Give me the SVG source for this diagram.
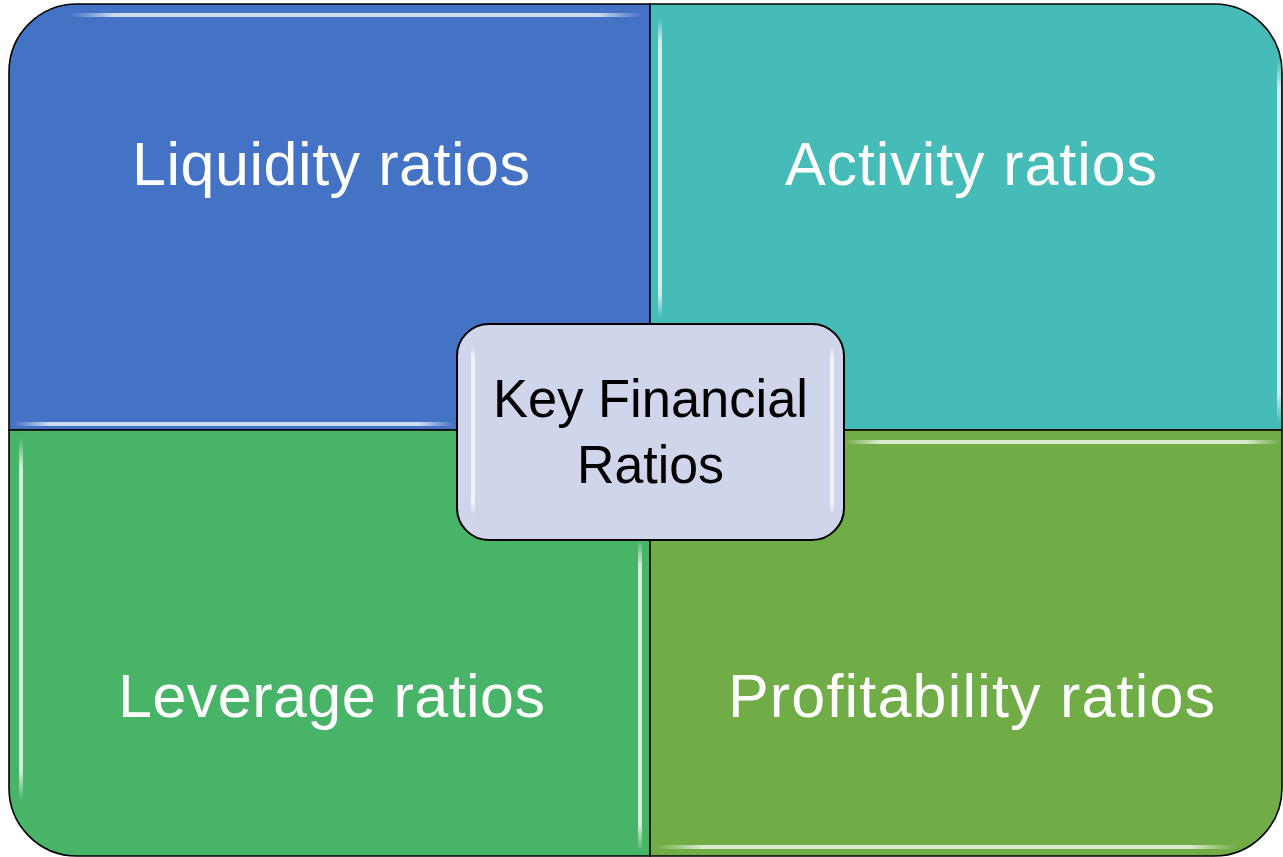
<svg xmlns="http://www.w3.org/2000/svg" width="1283" height="857" viewBox="0 0 1283 857">
<style>
.quad{stroke:#000;stroke-width:1.6;stroke-linejoin:round}
.qt{font-family:"Liberation Sans",Arial,sans-serif;font-size:61px;fill:#fff;text-anchor:middle;lengthAdjust:spacing}
.ct{font-family:"Liberation Sans",Arial,sans-serif;font-size:53px;fill:#000;text-anchor:middle}
.hl{stroke-width:3.5;fill:none;stroke-linecap:butt}
</style>
<defs>
<linearGradient id="gh" x1="0" y1="0" x2="1" y2="0">
<stop offset="0" stop-color="#fff" stop-opacity="0"/>
<stop offset="0.08" stop-color="#fff" stop-opacity="0.75"/>
<stop offset="0.92" stop-color="#fff" stop-opacity="0.75"/>
<stop offset="1" stop-color="#fff" stop-opacity="0"/>
</linearGradient>
<linearGradient id="gv" x1="0" y1="0" x2="0" y2="1">
<stop offset="0" stop-color="#fff" stop-opacity="0"/>
<stop offset="0.08" stop-color="#fff" stop-opacity="0.75"/>
<stop offset="0.92" stop-color="#fff" stop-opacity="0.75"/>
<stop offset="1" stop-color="#fff" stop-opacity="0"/>
</linearGradient>
</defs>
<rect width="1283" height="857" fill="#fff"/>
<g id="connectors"/>
<g id="node-liquidity">
<path class="quad" fill="#4472C4" d="M9,72 A68,68 0 0 1 77,4 L650,4 L650,430 L9,430 Z"/>
<rect x="70" y="13" width="572" height="4" fill="url(#gh)"/>
<rect x="14" y="422" width="440" height="4" fill="url(#gh)"/>
<text class="qt" x="331" y="185" textLength="398">Liquidity ratios</text>
</g>
<g id="node-activity">
<path class="quad" fill="#45BCB8" d="M650,4 L1214,4 A68,68 0 0 1 1282,72 L1282,430 L650,430 Z"/>
<rect x="658" y="18" width="4" height="300" fill="url(#gv)"/>
<rect x="1277" y="60" width="4" height="362" fill="url(#gv)"/>
<text class="qt" x="971" y="185" textLength="372">Activity ratios</text>
</g>
<g id="node-leverage">
<path class="quad" fill="#47B468" d="M9,430 L650,430 L650,856 L77,856 A68,68 0 0 1 9,788 Z"/>
<rect x="19" y="438" width="4" height="362" fill="url(#gv)"/>
<rect x="638" y="540" width="4" height="310" fill="url(#gv)"/>
<text class="qt" x="331.5" y="717" textLength="427">Leverage ratios</text>
</g>
<g id="node-profitability">
<path class="quad" fill="#70AD47" d="M650,430 L1282,430 L1282,788 A68,68 0 0 1 1214,856 L650,856 Z"/>
<rect x="845" y="440" width="435" height="4" fill="url(#gh)"/>
<rect x="656" y="845" width="580" height="4" fill="url(#gh)"/>
<text class="qt" x="971.5" y="717" textLength="487">Profitability ratios</text>
</g>
<g id="node-center">
<rect x="457" y="324" width="387" height="216" rx="32" ry="32" fill="#CFD5EA" stroke="#000" stroke-width="2"/>
<rect x="471" y="345" width="4" height="170" fill="url(#gv)"/>
<rect x="830" y="345" width="4" height="170" fill="url(#gv)"/>
<text class="ct" x="650.5" y="417" textLength="315" lengthAdjust="spacingAndGlyphs">Key Financial</text>
<text class="ct" x="650.5" y="483" textLength="147" lengthAdjust="spacingAndGlyphs">Ratios</text>
</g>
</svg>
